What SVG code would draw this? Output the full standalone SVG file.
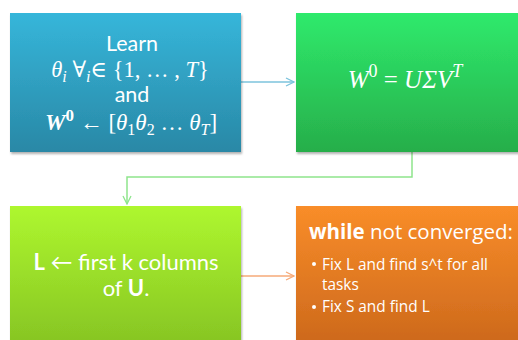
<svg xmlns="http://www.w3.org/2000/svg" width="518" height="340" viewBox="0 0 518 340">
<defs>
<linearGradient id="gBlue" x1="0" y1="0" x2="0" y2="1"><stop offset="0" stop-color="#36b6da"/><stop offset="1" stop-color="#2988a6"/></linearGradient>
<linearGradient id="gGreen" x1="0" y1="0" x2="0" y2="1"><stop offset="0" stop-color="#2fea6c"/><stop offset="1" stop-color="#27ae4a"/></linearGradient>
<linearGradient id="gLime" x1="0" y1="0" x2="0" y2="1"><stop offset="0" stop-color="#aef72f"/><stop offset="1" stop-color="#86c423"/></linearGradient>
<linearGradient id="gOrange" x1="0" y1="0" x2="0" y2="1"><stop offset="0" stop-color="#f98d29"/><stop offset="1" stop-color="#cc681c"/></linearGradient>
<filter id="sh" x="-5%" y="-5%" width="110%" height="110%"><feDropShadow dx="1" dy="2" stdDeviation="1.2" flood-color="#000" flood-opacity="0.3"/></filter>
<marker id="aBlue" markerWidth="10" markerHeight="10" refX="9" refY="5" orient="auto" markerUnits="userSpaceOnUse"><path d="M1,1 L9,5 L1,9" fill="none" stroke="#7cc3dc" stroke-width="1.3"/></marker>
<marker id="aGreen" markerWidth="10" markerHeight="10" refX="9" refY="5" orient="auto" markerUnits="userSpaceOnUse"><path d="M1,1 L9,5 L1,9" fill="none" stroke="#8ee58c" stroke-width="1.3"/></marker>
<marker id="aOrange" markerWidth="10" markerHeight="10" refX="9" refY="5" orient="auto" markerUnits="userSpaceOnUse"><path d="M1,1 L9,5 L1,9" fill="none" stroke="#f6aa78" stroke-width="1.3"/></marker>
</defs>
<style>
.t{fill:#fff;font-family:"Lato","Open Sans",sans-serif;}
.m{fill:#fff;font-family:"Liberation Serif","DejaVu Serif",serif;font-style:italic;}
.o{fill:#fff;font-family:"Open Sans","Lato",sans-serif;}
.c{fill:none;stroke-width:1.5;}
</style>
<rect width="518" height="340" fill="#fff"/>
<g id="connectors">
<path class="c" d="M241,82 H294" stroke="#7cc3dc" marker-end="url(#aBlue)"/>
<path class="c" d="M412,152 V177 H127 V204" stroke="#8ee58c" marker-end="url(#aGreen)"/>
<path class="c" d="M241,276 H294" stroke="#f6aa78" marker-end="url(#aOrange)"/>
</g>
<g id="node1">
<rect x="10" y="13" width="231" height="139" fill="url(#gBlue)" filter="url(#sh)"/>
<text class="t" x="132" y="51" font-size="21.5" text-anchor="middle">Learn</text>
<text class="m" x="130" y="77" font-size="22.5" text-anchor="middle">θ<tspan font-size="16" dy="5">i</tspan><tspan dy="-5" font-style="normal"> ∀</tspan><tspan font-size="16" dy="5">i</tspan><tspan dy="-5" font-style="normal">∈ {1, … , </tspan>T<tspan font-style="normal">}</tspan></text>
<text class="t" x="132" y="102" font-size="21.5" text-anchor="middle">and</text>
<text class="m" x="131" y="130" font-size="23" text-anchor="middle"><tspan font-weight="bold">W</tspan><tspan font-weight="bold" font-style="normal" font-size="17" dy="-9">0</tspan><tspan dy="9" font-style="normal"> ← [</tspan>θ<tspan font-size="16" dy="5" font-style="normal">1</tspan><tspan dy="-5">θ</tspan><tspan font-size="16" dy="5" font-style="normal">2</tspan><tspan dy="-5" font-style="normal"> … </tspan>θ<tspan font-size="16" dy="5">T</tspan><tspan dy="-5" font-style="normal">]</tspan></text>
</g>
<g id="node2">
<rect x="296" y="13" width="230" height="139" fill="url(#gGreen)" filter="url(#sh)"/>
<text class="m" x="405" y="88" font-size="25" text-anchor="middle">W<tspan font-style="normal" font-size="18" dy="-11">0</tspan><tspan dy="11" font-style="normal"> = </tspan>UΣV<tspan font-size="18" dy="-11">T</tspan></text>
</g>
<g id="node3">
<rect x="10" y="206" width="231" height="140" fill="url(#gLime)" filter="url(#sh)"/>
<text class="t" x="126" y="270" font-size="22" text-anchor="middle"><tspan font-weight="bold">L</tspan> ←  first k columns</text>
<text class="t" x="126" y="296" font-size="22" text-anchor="middle">of <tspan font-weight="bold">U</tspan>.</text>
</g>
<g id="node4">
<rect x="296" y="206" width="230" height="140" fill="url(#gOrange)" filter="url(#sh)"/>
<text class="o" x="309" y="239" font-size="20.5"><tspan font-weight="bold">while</tspan> not converged:</text>
<circle cx="314" cy="264" r="2" fill="#fff"/>
<text class="o" x="322" y="270" font-size="15.4">Fix L and find s^t for all</text>
<text class="o" x="322" y="290" font-size="15.4">tasks</text>
<circle cx="314" cy="307" r="2" fill="#fff"/>
<text class="o" x="322" y="312" font-size="15.4">Fix S and find L</text>
</g>
</svg>
